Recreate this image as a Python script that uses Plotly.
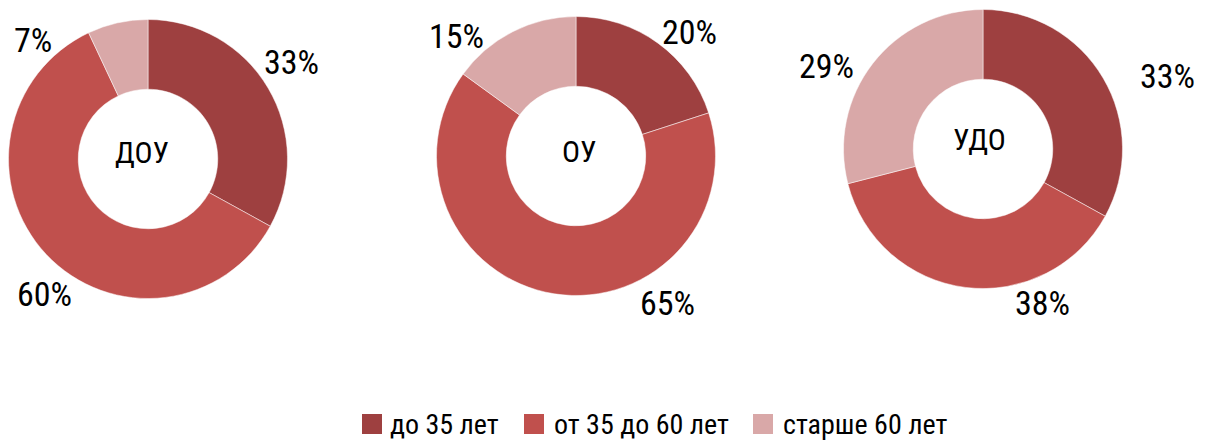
import plotly.graph_objects as go

# Age structure of staff by type of institution (shares, %)
groups = ["ДОУ", "ОУ", "УДО"]
age_labels = ["до 35 лет", "от 35 до 60 лет", "старше 60 лет"]
doy_values = [33, 60, 7]
oy_values = [20, 65, 15]
udo_values = [33, 38, 29]
series = [doy_values, oy_values, udo_values]

colors = ["#9E4040", "#C0504D", "#D9A8A8"]
FONT = "Roboto Condensed, DejaVu Sans Condensed, sans-serif"

W, H = 1205, 441
# donut centres and domain half-size in pixels
centers = [(148, 159), (576, 156), (983, 149)]
R = 139.5
# percentage label anchor points (pixels), one per slice
label_pos = [
    [(291, 62), (44, 294), (33, 40)],
    [(689, 32), (667, 303), (456, 36)],
    [(1167, 76), (1042, 303), (826, 66)],
]
# centre caption positions (pixels)
caption_pos = [(142, 153), (579, 151), (979, 139)]
# legend layout: square left edge and text left edge (pixels)
legend_square_x = [362, 524, 753]
legend_text_x = [390, 554, 783]
legend_y = 424
SQ = 20

fig = go.Figure()
for i, (name, vals) in enumerate(zip(groups, series)):
    cx, cy = centers[i]
    fig.add_trace(go.Pie(
        labels=age_labels,
        values=vals,
        hole=0.5,
        sort=False,
        direction="clockwise",
        rotation=0,
        textinfo="none",
        textposition="inside",
        hoverinfo="label+percent",
        marker=dict(colors=colors, line=dict(color="white", width=0.5)),
        domain=dict(x=[(cx - R) / W, (cx + R) / W],
                    y=[1 - (cy + R) / H, 1 - (cy - R) / H]),
        showlegend=False,
        name=name,
    ))
    for v, (lx, ly) in zip(vals, label_pos[i]):
        fig.add_annotation(
            x=lx / W, y=1 - ly / H, xref="paper", yref="paper",
            text=f"{v}%", showarrow=False,
            font=dict(family=FONT, size=34, color="#000000"),
            xanchor="center", yanchor="middle",
        )
    px, py = caption_pos[i]
    fig.add_annotation(
        x=px / W, y=1 - py / H, xref="paper", yref="paper",
        text=name, showarrow=False,
        font=dict(family=FONT, size=30, color="#000000"),
        xanchor="center", yanchor="middle",
    )

# legend: coloured squares with category names
for lab, col, sx, tx in zip(age_labels, colors, legend_square_x, legend_text_x):
    fig.add_shape(
        type="rect", xref="paper", yref="paper",
        x0=sx / W, x1=(sx + SQ) / W,
        y0=1 - (legend_y + SQ / 2) / H, y1=1 - (legend_y - SQ / 2) / H,
        fillcolor=col, line=dict(width=0),
    )
    fig.add_annotation(
        x=tx / W, y=1 - legend_y / H, xref="paper", yref="paper",
        text=lab, showarrow=False,
        font=dict(family=FONT, size=28, color="#000000"),
        xanchor="left", yanchor="middle", xshift=-2,
    )

fig.update_layout(
    width=W, height=H,
    margin=dict(l=0, r=0, t=0, b=0),
    paper_bgcolor="white",
    plot_bgcolor="white",
    font=dict(family=FONT, size=30, color="#000000"),
    showlegend=False,
)

fig.write_html("out.html")
